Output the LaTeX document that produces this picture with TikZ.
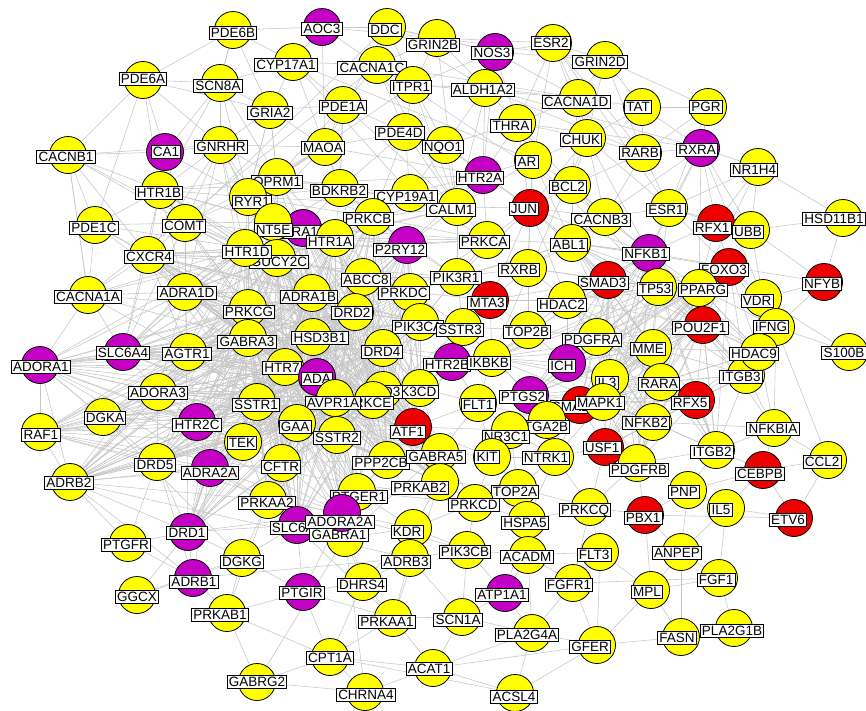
\documentclass[tikz,border=0pt]{standalone}
\usepackage{fontspec}
\setmainfont{Liberation Sans}
\pgfdeclarelayer{bg}
\pgfsetlayers{bg,main}
\definecolor{gyel}{RGB}{255,255,0}
\definecolor{gmag}{RGB}{196,0,196}
\definecolor{gred}{RGB}{236,0,0}
\definecolor{lnkgray}{RGB}{198,198,198}
\tikzset{
  gc/.style={circle,draw=black,line width=0.8pt,minimum size=37pt,inner sep=0pt},
  gl/.style={draw=black,fill=white,line width=0.9pt,inner xsep=1.8pt,inner ysep=1.8pt,
    text height=9.7pt,text depth=0pt,font=\fontsize{13.5}{14}\selectfont},
  lnk/.style={draw=lnkgray,line width=0.55pt}
}
\newcommand\gn[6]{\node[gc,fill=#4] (#1) at (#2,#3) {};\node[gl] (#1-l) at (#5,#6) {#1};}
\begin{document}
\begin{tikzpicture}[x=1pt,y=-1pt]
\useasboundingbox (0,0) rectangle (866,710);
\gn{PDE6B}{233}{30}{gyel}{233}{33}
\gn{AOC3}{322}{27}{gmag}{322}{29}
\gn{DDC}{387}{27}{gyel}{385}{30}
\gn{GRIN2B}{437}{38}{gyel}{433}{45}
\gn{NOS3}{495}{52}{gmag}{492}{53}
\gn{ESR2}{553}{43}{gyel}{551}{43}
\gn{GRIN2D}{605}{60}{gyel}{600}{62}
\gn{CYP17A1}{293}{62}{gyel}{286}{65}
\gn{CACNA1C}{377}{65}{gyel}{372}{68}
\gn{ITPR1}{413}{85}{gyel}{411}{87}
\gn{ALDH1A2}{485}{88}{gyel}{483}{90}
\gn{CACNA1D}{578}{98}{gyel}{576}{102}
\gn{TAT}{642}{107}{gyel}{638}{107}
\gn{PGR}{708}{107}{gyel}{706}{107}
\gn{PDE6A}{143}{80}{gyel}{143}{79}
\gn{SCN8A}{220}{83}{gyel}{218}{86}
\gn{GRIA2}{270}{110}{gyel}{270}{113}
\gn{PDE1A}{343}{105}{gyel}{343}{107}
\gn{THRA}{517}{123}{gyel}{511}{126}
\gn{PDE4D}{405}{132}{gyel}{400}{133}
\gn{NQO1}{445}{145}{gyel}{443}{147}
\gn{CHUK}{587}{138}{gyel}{581}{140}
\gn{GNRHR}{220}{145}{gyel}{221}{147}
\gn{CA1}{165}{152}{gmag}{166}{152}
\gn{MAOA}{325}{147}{gyel}{323}{148}
\gn{RARB}{643}{153}{gyel}{640}{153}
\gn{RXRA}{701}{148}{gmag}{697}{150}
\gn{CACNB1}{68}{155}{gyel}{66}{157}
\gn{AR}{533}{160}{gyel}{527}{162}
\gn{NR1H4}{758}{167}{gyel}{754}{170}
\gn{HTR2A}{483}{175}{gmag}{480}{178}
\gn{OPRM1}{277}{177}{gyel}{277}{182}
\gn{BCL2}{572}{185}{gyel}{568}{187}
\gn{BDKRB2}{340}{188}{gyel}{339}{191}
\gn{HTR1B}{160}{190}{gyel}{159}{193}
\gn{CYP19A1}{410}{193}{gyel}{406}{197}
\gn{RYR1}{248}{197}{gyel}{252}{202}
\gn{CALM1}{457}{207}{gyel}{451}{210}
\gn{JUN}{530}{208}{gred}{524}{209}
\gn{ESR1}{669}{208}{gyel}{666}{210}
\gn{CACNB3}{605}{217}{gyel}{601}{220}
\gn{HSD11B1}{843}{218}{gyel}{834}{219}
\gn{PRKCB}{373}{217}{gyel}{368}{219}
\gn{RFX1}{716}{223}{gred}{712}{228}
\gn{UBB}{751}{230}{gyel}{748}{232}
\gn{PDE1C}{95}{225}{gyel}{94}{228}
\gn{COMT}{185}{223}{gyel}{184}{226}
\gn{ADRA1A}{303}{228}{gmag}{300}{232}
\gn{NT5E}{273}{222}{gyel}{273}{230}
\gn{HTR1A}{335}{238}{gyel}{330}{242}
\gn{PRKCA}{487}{240}{gyel}{484}{242}
\gn{ABL1}{572}{243}{gyel}{569}{245}
\gn{P2RY12}{407}{245}{gmag}{400}{250}
\gn{NFKB1}{649}{253}{gmag}{646}{254}
\gn{CXCR4}{148}{255}{gyel}{149}{257}
\gn{GUCY2C}{277}{258}{gyel}{279}{262}
\gn{HTR1D}{245}{248}{gyel}{247}{252}
\gn{FOXO3}{729}{267}{gred}{724}{270}
\gn{RXRB}{528}{268}{gyel}{519}{270}
\gn{ABCC8}{363}{277}{gyel}{366}{280}
\gn{PIK3R1}{457}{277}{gyel}{456}{278}
\gn{SMAD3}{608}{280}{gred}{603}{283}
\gn{NFYB}{824}{282}{gred}{822}{284}
\gn{TP53}{658}{287}{gyel}{655}{289}
\gn{PPARG}{699}{288}{gyel}{703}{290}
\gn{ADRA1D}{185}{292}{gyel}{187}{293}
\gn{PRKDC}{410}{292}{gyel}{404}{293}
\gn{ADRA1B}{312}{293}{gyel}{309}{297}
\gn{CACNA1A}{88}{295}{gyel}{88}{297}
\gn{MTA3}{490}{300}{gred}{487}{303}
\gn{HDAC2}{567}{300}{gyel}{562}{305}
\gn{ITGB3}{746}{375}{gyel}{741}{377}
\gn{VDR}{763}{298}{gyel}{757}{301}
\gn{PRKCG}{248}{308}{gyel}{249}{312}
\gn{DRD2}{355}{312}{gyel}{352}{313}
\gn{PIK3CA}{420}{322}{gyel}{418}{327}
\gn{SSTR3}{463}{327}{gyel}{460}{330}
\gn{POU2F1}{703}{325}{gred}{700}{328}
\gn{IFNG}{776}{327}{gyel}{771}{327}
\gn{TOP2B}{528}{330}{gyel}{527}{332}
\gn{PDGFRA}{597}{337}{gyel}{592}{340}
\gn{GABRA3}{248}{338}{gyel}{247}{342}
\gn{HSD3B1}{313}{337}{gyel}{320}{338}
\gn{MME}{653}{348}{gyel}{648}{349}
\gn{DRD4}{383}{348}{gyel}{382}{352}
\gn{HDAC9}{759}{352}{gyel}{754}{354}
\gn{S100B}{849}{352}{gyel}{844}{353}
\gn{SLC6A4}{123}{352}{gmag}{123}{353}
\gn{AGTR1}{188}{352}{gyel}{187}{354}
\gn{ADORA1}{40}{365}{gmag}{41}{367}
\gn{HTR2B}{452}{362}{gmag}{447}{365}
\gn{IKBKB}{492}{358}{gyel}{489}{363}
\gn{ICH}{567}{363}{gmag}{562}{366}
\gn{HTR7}{285}{367}{gyel}{282}{368}
\gn{ADA}{317}{377}{gmag}{317}{379}
\gn{IL3}{610}{378}{gyel}{607}{383}
\gn{RARA}{661}{382}{gyel}{659}{384}
\gn{PIK3CD}{420}{388}{gyel}{412}{392}
\gn{DRD3}{383}{390}{gyel}{382}{392}
\gn{ADORA3}{158}{392}{gyel}{158}{393}
\gn{PTGS2}{530}{395}{gmag}{523}{397}
\gn{PRKCE}{373}{400}{gyel}{368}{403}
\gn{AVPR1A}{335}{398}{gyel}{333}{403}
\gn{SMAD4}{580}{405}{gred}{575}{407}
\gn{MAPK1}{603}{402}{gyel}{600}{403}
\gn{RFX5}{696}{400}{gred}{690}{403}
\gn{SSTR1}{257}{402}{gyel}{256}{405}
\gn{FLT1}{478}{403}{gyel}{478}{405}
\gn{DGKA}{103}{417}{gyel}{105}{418}
\gn{NFKB2}{653}{422}{gyel}{646}{423}
\gn{HTR2C}{197}{422}{gmag}{197}{425}
\gn{GAA}{297}{423}{gyel}{295}{427}
\gn{ITGA2B}{547}{420}{gyel}{544}{427}
\gn{ATF1}{413}{427}{gred}{408}{432}
\gn{NFKBIA}{774}{428}{gyel}{773}{429}
\gn{RAF1}{40}{432}{gyel}{41}{435}
\gn{NR3C1}{510}{430}{gyel}{506}{437}
\gn{SSTR2}{337}{435}{gyel}{337}{438}
\gn{TEK}{243}{442}{gyel}{242}{443}
\gn{USF1}{605}{447}{gred}{602}{448}
\gn{ITGB2}{716}{450}{gyel}{712}{452}
\gn{KIT}{492}{457}{gyel}{487}{457}
\gn{NTRK1}{555}{457}{gyel}{546}{458}
\gn{CCL2}{828}{460}{gyel}{822}{462}
\gn{DRD5}{157}{462}{gyel}{155}{465}
\gn{CFTR}{282}{463}{gyel}{281}{467}
\gn{PPP2CB}{387}{460}{gyel}{381}{463}
\gn{GABRA5}{440}{452}{gyel}{436}{457}
\gn{ADRA2A}{210}{468}{gmag}{210}{473}
\gn{PDGFRB}{637}{463}{gyel}{639}{470}
\gn{CEBPB}{763}{470}{gred}{760}{474}
\gn{ADRB2}{70}{482}{gyel}{69}{483}
\gn{PRKAB2}{440}{482}{gyel}{420}{488}
\gn{TOP2A}{518}{488}{gyel}{515}{492}
\gn{PNP}{688}{490}{gyel}{684}{492}
\gn{PTGER1}{357}{492}{gyel}{359}{497}
\gn{PRKAA2}{268}{500}{gyel}{267}{503}
\gn{PRKCD}{475}{503}{gyel}{474}{505}
\gn{PRKCQ}{590}{507}{gyel}{585}{510}
\gn{IL5}{726}{508}{gyel}{721}{510}
\gn{PBX1}{645}{515}{gred}{643}{518}
\gn{ETV6}{794}{518}{gred}{788}{520}
\gn{HSPA5}{527}{520}{gyel}{525}{523}
\gn{SLC6A3}{297}{525}{gmag}{297}{528}
\gn{GABRA1}{345}{538}{gyel}{339}{535}
\gn{ADORA2A}{342}{513}{gmag}{340}{522}
\gn{KDR}{413}{528}{gyel}{407}{532}
\gn{DRD1}{188}{532}{gmag}{187}{533}
\gn{PTGFR}{128}{543}{gyel}{126}{545}
\gn{PIK3CB}{467}{550}{gyel}{465}{552}
\gn{FLT3}{600}{552}{gyel}{594}{555}
\gn{ANPEP}{681}{552}{gyel}{677}{553}
\gn{ACADM}{528}{555}{gyel}{527}{557}
\gn{ADRB3}{410}{558}{gyel}{406}{562}
\gn{DGKG}{242}{558}{gyel}{242}{562}
\gn{ADRB1}{193}{578}{gmag}{194}{582}
\gn{FGF1}{719}{578}{gyel}{716}{580}
\gn{DHRS4}{363}{582}{gyel}{362}{585}
\gn{FGFR1}{573}{583}{gyel}{569}{585}
\gn{MPL}{651}{590}{gyel}{647}{592}
\gn{PTGIR}{303}{592}{gmag}{302}{593}
\gn{ATP1A1}{505}{593}{gmag}{502}{595}
\gn{GGCX}{137}{595}{gyel}{137}{597}
\gn{PRKAB1}{227}{613}{gyel}{220}{615}
\gn{SCN1A}{462}{617}{gyel}{458}{620}
\gn{PRKAA1}{393}{618}{gyel}{387}{622}
\gn{PLA2G1B}{734}{628}{gyel}{732}{631}
\gn{PLA2G4A}{532}{633}{gyel}{527}{635}
\gn{FASN}{681}{637}{gyel}{677}{638}
\gn{GFER}{597}{645}{gyel}{590}{647}
\gn{CPT1A}{330}{657}{gyel}{330}{658}
\gn{ACAT1}{433}{668}{gyel}{429}{669}
\gn{GABRG2}{257}{682}{gyel}{257}{682}
\gn{CHRNA4}{365}{692}{gyel}{366}{695}
\gn{ACSL4}{515}{693}{gyel}{514}{697}
\begin{pgfonlayer}{bg}
\foreach \s/\ts in {
ADORA1/{ADRA1D,AGTR1,ADORA3,SLC6A4,HTR1D,PRKCG,GABRA3,HTR7,ADA,SSTR1,ADRA1B,DRD2,HSD3B1,HTR2C,DGKA,RAF1,CACNA1A,ADRB2,DRD5,ADRA2A,TEK,GAA,AVPR1A,DRD4,ADORA2A,PIK3CA},
RAF1/{DGKA,ADORA3,HTR2C,AGTR1,PRKCG,GABRA3,SSTR1,HTR7,ADA,DRD3,PRKCE,TEK,ADRB2,ADRA2A,DRD5,PRKCD,PIK3CB,ADRA1B,GAA},
DGKA/{ADORA3,HTR2C,AGTR1,PRKCG,GABRA3,HTR7,SSTR1,ADA,ADRA1B,DRD2,AVPR1A,DGKG,PRKCE},
SLC6A4/{ADRA1D,AGTR1,ADORA3,PRKCG,HTR1D,GUCY2C,HTR7,CXCR4,CACNA1A,GABRA3,DRD2,HTR1B,COMT,MAOA},
CACNA1A/{CXCR4,ADRA1D,PDE1C,AGTR1,HTR1D,PRKCG,CACNB1,CACNA1C,CALM1,GABRA3},
ADRB2/{DRD5,ADRA2A,HTR2C,PTGFR,DRD1,ADRB1,TEK,SSTR1,CFTR,PRKAA2,GAA,ADORA3,PRKCG,ADRA1B,ADRB3},
CACNB1/{PDE1C,HTR1B,CA1,PDE6A,CXCR4,COMT,CACNA1A,GNRHR,HTR1D},
PDE1C/{HTR1B,COMT,CXCR4,PDE6A,HTR1D,ADRA1D,PRKCG},
CA1/{HTR1B,PDE6A,GNRHR,SCN8A,COMT,RYR1},
PDE6A/{PDE6B,SCN8A,HTR1B,GNRHR,GRIA2},
SCN8A/{PDE6B,GRIA2,GNRHR,CYP17A1,HTR1B,RYR1,OPRM1},
GNRHR/{HTR1B,COMT,RYR1,OPRM1,HTR1D,NT5E,GUCY2C,ADRA1D,MAOA,CXCR4,GRIA2,PRKCG},
HTR1B/{COMT,CXCR4,HTR1D,RYR1,NT5E,GUCY2C,ADRA1D,PRKCG,ADRA1B,DRD2,HTR1A,HTR7,OPRM1,HTR2A},
COMT/{CXCR4,HTR1D,GUCY2C,ADRA1D,PRKCG,RYR1,NT5E,MAOA,DRD2,ADRA1B,HTR1A,DRD1,DDC},
CXCR4/{ADRA1D,HTR1D,GUCY2C,PRKCG,AGTR1,GABRA3,ADRA1B,HTR7,PRKCA,PIK3CA,P2RY12,PIK3R1},
ADRA1D/{HTR1D,GUCY2C,PRKCG,AGTR1,GABRA3,ADRA1B,HSD3B1,HTR7,DRD2,ADA,ADORA3,NT5E,HTR1A,ADRA1A},
HTR1D/{NT5E,GUCY2C,HTR1A,ADRA1A,PRKCG,ADRA1B,DRD2,ABCC8,HSD3B1,GABRA3,HTR7,OPRM1,RYR1,PRKCB,BDKRB2},
RYR1/{OPRM1,NT5E,ADRA1A,HTR1A,GUCY2C,PRKCB,BDKRB2,MAOA,GRIA2,CALM1,ITPR1,PRKCG},
OPRM1/{MAOA,BDKRB2,NT5E,ADRA1A,HTR1A,PRKCB,GUCY2C,GRIA2,PDE1A,CALM1,ADRA1B,DRD2},
NT5E/{ADRA1A,HTR1A,GUCY2C,PRKCG,ADRA1B,ABCC8,ADA},
ADRA1A/{HTR1A,GUCY2C,PRKCB,BDKRB2,ABCC8,ADRA1B,DRD2,PRKCG,HSD3B1,PRKCA,P2RY12},
HTR1A/{GUCY2C,PRKCB,BDKRB2,ABCC8,ADRA1B,DRD2,P2RY12,PRKDC,HTR2A,CALM1,PRKCA,DRD4,HSD3B1,HTR7},
GUCY2C/{PRKCG,ADRA1B,ABCC8,DRD2,HSD3B1,GABRA3,HTR7},
PRKCG/{GABRA3,ADRA1B,HSD3B1,HTR7,DRD2,AGTR1,SSTR1,ADA,ADORA3,HTR2C,AVPR1A,DRD4,PRKCE},
GABRA3/{HSD3B1,HTR7,ADA,SSTR1,AGTR1,ADORA3,HTR2C,AVPR1A,GAA,ADRA1B,GABRA1,GABRA5},
ADRA1B/{DRD2,HSD3B1,ABCC8,HTR7,ADA,DRD4,AVPR1A,PRKCE,DRD3,P2RY12,PRKDC,PIK3CA,SSTR1,GAA},
DRD2/{ABCC8,PRKDC,HSD3B1,DRD4,PIK3CA,ADA,AVPR1A,DRD3,PRKCE,HTR7,P2RY12,SSTR3},
ABCC8/{P2RY12,PRKDC,PRKCB,BDKRB2,PIK3CA,DRD4,HSD3B1,PIK3R1},
PRKDC/{P2RY12,PIK3CA,PIK3R1,PRKCA,DRD4,SSTR3,MTA3,ABL1},
HSD3B1/{HTR7,ADA,DRD4,AVPR1A,PRKCE,DRD3,SSTR1,GAA},
HTR7/{ADA,SSTR1,GAA,AVPR1A,SSTR2,TEK,HTR2C,ADORA3,CFTR},
ADA/{AVPR1A,GAA,SSTR2,DRD3,PRKCE,DRD4,SSTR1,CFTR,PPP2CB},
AVPR1A/{PRKCE,DRD3,SSTR2,GAA,SSTR1,DRD4,PPP2CB,ATF1,PIK3CD},
DRD4/{DRD3,PIK3CA,PIK3CD,PRKCE,SSTR3,HTR2B,IKBKB},
DRD3/{PIK3CD,PRKCE,ATF1,SSTR2,PPP2CB,HTR2B,GABRA5},
PIK3CD/{PIK3CA,SSTR3,HTR2B,ATF1,IKBKB,FLT1,GABRA5,PRKCE},
SSTR1/{GAA,TEK,SSTR2,HTR2C,ADORA3,CFTR,AGTR1},
GAA/{SSTR2,TEK,CFTR,PPP2CB},
SSTR2/{PPP2CB,ATF1,CFTR,PRKCE,SSTR3},
AGTR1/{ADORA3,HTR2C,SSTR1,HTR7},
ADORA3/{HTR2C,DRD5,ADRA2A,TEK,SSTR1},
HTR2C/{DRD5,ADRA2A,TEK,CFTR},
P2RY12/{PRKCB,BDKRB2,PIK3R1,PRKCA,PIK3CA,CALM1},
PRKCB/{BDKRB2,CALM1,PRKCA,CYP19A1,PIK3R1},
BDKRB2/{MAOA,CYP19A1,PDE4D,PDE1A,CALM1},
PDE6B/{AOC3,CYP17A1,GRIA2,SCN8A},
AOC3/{DDC,CYP17A1,CACNA1C,MAOA,GRIN2B},
DDC/{GRIN2B,CACNA1C,ITPR1,ALDH1A2,MAOA,NOS3},
GRIN2B/{NOS3,CACNA1C,ITPR1,ESR2,GRIN2D,ALDH1A2,CALM1},
NOS3/{ESR2,ALDH1A2,ITPR1,GRIN2D,CACNA1D,THRA,CALM1,HTR2A},
ESR2/{GRIN2D,CACNA1D,THRA,AR,CHUK,ESR1,RARB},
GRIN2D/{CACNA1D,TAT,CHUK,PGR,RARB},
CYP17A1/{GRIA2,CACNA1C,PDE1A,MAOA,CYP19A1,AR},
CACNA1C/{ITPR1,PDE1A,PDE4D,CALM1,CACNA1D,CACNB3},
ITPR1/{PDE4D,NQO1,CALM1,ALDH1A2,CACNA1D},
ALDH1A2/{NQO1,THRA,CACNA1D,HTR2A,RXRA,RARB},
CACNA1D/{CHUK,CACNB3,TAT,BCL2,THRA},
GRIA2/{PDE1A,MAOA,OPRM1,RYR1},
PDE1A/{MAOA,PDE4D,BDKRB2,CALM1},
MAOA/{PDE4D,BDKRB2,HTR2A},
PDE4D/{NQO1,CYP19A1,CALM1,PRKCB},
NQO1/{HTR2A,THRA,CALM1,CYP19A1,JUN},
THRA/{AR,CHUK,HTR2A,RXRA,BCL2,JUN},
CHUK/{BCL2,JUN,NFKB1,IKBKB,AR,TAT,RARB,ESR1},
TAT/{PGR,RARB,RXRA},
PGR/{RXRA,RARB,ESR1},
RARB/{RXRA,ESR1,BCL2,CACNB3},
RXRA/{NR1H4,ESR1,RFX1,UBB,PPARG,VDR,RXRB,NFKB1},
NR1H4/{HSD11B1,ESR1,RFX1,UBB,PPARG},
HSD11B1/{UBB,NFYB},
AR/{HTR2A,BCL2,JUN,CALM1,ABL1,TP53,RXRB},
HTR2A/{CALM1,JUN,CYP19A1,PRKCA,P2RY12},
BCL2/{JUN,CACNB3,ABL1,TP53,NFKB1},
CALM1/{JUN,PRKCA,CYP19A1,PIK3R1},
JUN/{PRKCA,RXRB,ABL1,CACNB3,NFKB1,SMAD3,MTA3,HDAC2,PIK3R1},
CACNB3/{ABL1,ESR1,NFKB1},
CYP19A1/{PRKCA},
ESR1/{RFX1,UBB,NFKB1,TP53,FOXO3},
RFX1/{UBB,FOXO3,NFKB1,PPARG},
UBB/{FOXO3,VDR,NFYB},
NFKB1/{FOXO3,TP53,PPARG,SMAD3,ABL1,HDAC2,POU2F1,NFKBIA},
FOXO3/{PPARG,VDR,NFYB,POU2F1,IFNG},
NFYB/{VDR,IFNG},
TP53/{PPARG,SMAD3,HDAC2,POU2F1,MME,RXRB,ABL1,PDGFRA},
PPARG/{VDR,POU2F1,IFNG,HDAC9,MME,RARA},
VDR/{IFNG,HDAC9,S100B,ITGB3},
IFNG/{HDAC9,S100B,ITGB3,NFKBIA,CCL2},
POU2F1/{HDAC9,MME,RARA,RFX5,ITGB3,IL3},
HDAC9/{ITGB3,RARA,NFKBIA},
MME/{RARA,PDGFRA,IL3,NFKB2,ICH},
ITGB3/{RFX5,NFKBIA,ITGB2,RARA},
RARA/{RFX5,NFKB2,IL3,MAPK1},
RFX5/{NFKB2,ITGB2,USF1},
NFKB2/{USF1,ITGB2,NFKBIA,MAPK1,PDGFRB},
NFKBIA/{CCL2,ITGB2,CEBPB},
ITGB2/{CEBPB,PDGFRB,PNP},
CCL2/{CEBPB,ETV6},
CEBPB/{ETV6,IL5,PNP},
PDGFRB/{PBX1,PNP,USF1,PRKCQ},
PNP/{IL5,PBX1,ANPEP},
IL5/{ETV6,ANPEP,FGF1},
PBX1/{ANPEP,MPL,ETV6},
ANPEP/{FGF1,MPL,FASN},
FGF1/{PLA2G1B,MPL,FGFR1},
FASN/{PLA2G1B,MPL,GFER},
MPL/{GFER,FLT3},
SMAD3/{HDAC2,ABL1,RXRB,TP53,MTA3},
HDAC2/{RXRB,MTA3,TOP2B,PDGFRA,ICH},
ABL1/{RXRB,PRKCA,PIK3R1},
RXRB/{MTA3,TOP2B,PIK3R1},
MTA3/{PIK3R1,SSTR3,TOP2B,IKBKB},
TOP2B/{PDGFRA,ICH,IKBKB,SSTR3},
PDGFRA/{ICH,IL3,MAPK1,SMAD4},
ICH/{PTGS2,IL3,SMAD4,IKBKB},
PTGS2/{SMAD4,MAPK1,ITGA2B,FLT1,IKBKB},
SMAD4/{MAPK1,IL3,USF1,NTRK1},
MAPK1/{IL3,USF1,NFKB2,ITGA2B,NTRK1,PDGFRB},
USF1/{NTRK1,PDGFRB,PRKCQ},
IKBKB/{HTR2B,SSTR3,FLT1,PTGS2},
HTR2B/{SSTR3,FLT1,ATF1},
SSTR3/{PIK3CA,PIK3R1},
PIK3CA/{PIK3R1,PRKCA},
PIK3R1/{PRKCA},
ATF1/{FLT1,GABRA5,NR3C1,KIT,PPP2CB},
FLT1/{NR3C1,KIT,ITGA2B,GABRA5},
ITGA2B/{NR3C1,NTRK1,KIT},
NR3C1/{KIT,NTRK1,TOP2A},
KIT/{GABRA5,NTRK1,PRKCD,TOP2A},
NTRK1/{PRKCQ,TOP2A,HSPA5},
GABRA5/{PPP2CB,PRKAB2,GABRA1,PRKCD},
PPP2CB/{PTGER1,PRKAB2,CFTR,ADORA2A},
CFTR/{PRKAA2,ADORA2A,TEK,SLC6A3},
TEK/{PRKAA2,ADRA2A,DRD5},
DRD5/{ADRA2A,DRD1,PTGFR,ADRB1},
ADRA2A/{DRD1,PRKAA2,ADRB1,SLC6A3,ADORA2A},
DRD1/{PTGFR,ADRB1,GGCX,SLC6A3,ADORA2A,DGKG},
ADRB1/{PTGFR,GGCX,DGKG,PRKAB1,ADRB3},
PRKAA2/{SLC6A3,ADORA2A,DGKG,PRKAB1,PRKAA1},
SLC6A3/{ADORA2A,GABRA1,PTGIR,DGKG},
ADORA2A/{GABRA1,PTGER1,KDR,PTGIR,DHRS4},
GABRA1/{PTGER1,KDR,DHRS4,GABRG2,CHRNA4},
PTGER1/{PRKAB2,KDR,PRKCD},
PRKAB2/{PRKCD,TOP2A,KDR,PRKAA1},
KDR/{ADRB3,DHRS4,PRKCD,PIK3CB},
ADRB3/{DHRS4,PRKAA1,PIK3CB,SCN1A},
DGKG/{PTGIR,PRKAB1,GGCX},
PRKAB1/{PTGIR,GABRG2,CPT1A},
PTGIR/{DHRS4,CPT1A,PRKAA1},
DHRS4/{PRKAA1,CPT1A},
PRKAA1/{CPT1A,ACAT1,SCN1A},
CPT1A/{GABRG2,CHRNA4,ACAT1,ACSL4},
GABRG2/{CHRNA4},
CHRNA4/{ACAT1},
ACAT1/{SCN1A,PLA2G4A,ACSL4,GFER},
SCN1A/{ATP1A1,PIK3CB,PLA2G4A},
PIK3CB/{PRKCD,ATP1A1,ACADM},
PRKCD/{TOP2A,HSPA5},
TOP2A/{HSPA5,PRKCQ},
HSPA5/{ACADM,PRKCQ,ATP1A1},
ACADM/{ATP1A1,FGFR1,PLA2G4A,FLT3},
PRKCQ/{FLT3,FGFR1,PBX1},
FLT3/{FGFR1,GFER},
FGFR1/{GFER,PLA2G4A},
ATP1A1/{PLA2G4A},
PLA2G4A/{ACSL4,GFER},
GFER/{ACSL4}}{\foreach \t in \ts {\draw[lnk] (\s) -- (\t);}}
\foreach \s in {PRKCG,GABRA3,HTR7,ADA,HSD3B1,ADRA1B,DRD2,AVPR1A,SSTR1,GAA,PRKCE,DRD3,DRD4,HTR1D,GUCY2C}
  {\foreach \t in {SLC6A4,ADRB2,DRD5,ADRA2A,HTR2C,ADORA3,AGTR1,CXCR4,ADRA1D,TEK,CFTR,SSTR2,PPP2CB,ATF1,PRKAA2,ADORA2A,PTGER1,DRD1,SLC6A3,GABRA5,PRKAB2}
    {\draw[lnk] (\s) -- (\t);}}
\foreach \s in {HTR1A,ADRA1A,NT5E,ABCC8,PRKDC,PIK3CA,P2RY12,PRKCB}
  {\foreach \t in {HTR7,ADA,GAA,SSTR1,SSTR2,AVPR1A,PRKCE,DRD3,PIK3CD,ATF1,PPP2CB,HSD3B1,GABRA3}
    {\draw[lnk] (\s) -- (\t);}}
\foreach \s in {NFKB1,TP53,PPARG,POU2F1,SMAD3,RARA,MME,NFKB2,RFX5,FOXO3}
  {\foreach \t in {IL3,MAPK1,SMAD4,ICH,PDGFRA,HDAC2,ABL1,ITGB3,HDAC9,USF1,PDGFRB,ITGB2,PTGS2,IKBKB}
    {\draw[lnk] (\s) -- (\t);}}
\end{pgfonlayer}
\end{tikzpicture}
\end{document}
